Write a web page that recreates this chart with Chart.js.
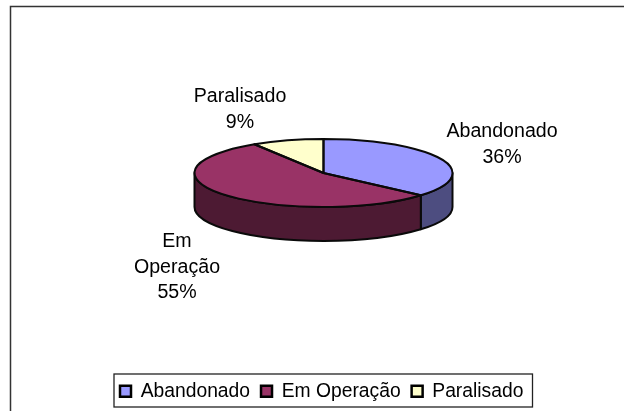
<!DOCTYPE html>
<html>
<head>
<meta charset="utf-8">
<style>html,body{margin:0;padding:0;background:#fff}#w{position:relative;width:624px;height:411px}</style>
<script src="https://cdn.jsdelivr.net/npm/chart.js@4"></script>
</head>
<body>
<div id="w"><canvas id="c" width="624" height="411"></canvas></div>
<script>
const categories = ["Abandonado", "Em Operação", "Paralisado"];
const values = [36.4, 54.6, 9.0];
const topColors = ["#9999FF", "#993366", "#FFFFCC"];
const wallColors = ["#4D4D80", "#4D1A33", "#808066"];
const labelWraps = [["Abandonado"], ["Em", "Operação"], ["Paralisado"]];

const FONT = '"Liberation Sans", Arial, sans-serif';
const INK = "#0a0a0a";
const PIE = {cx: 323.5, cy: 173, rx: 129, ry: 34, depth: 34};
const LABEL_POS = [{x: 502, y: 132}, {x: 177, y: 242}, {x: 240, y: 97}];
const LABEL_LINE = 25.5;
const LEGEND_FRAME = {x: 114, y: 374, w: 418.5, h: 33};

const pie3d = {
  id: "pie3d",
  beforeDraw(chart) {
    const c = chart.ctx;
    c.save();
    c.strokeStyle = "#333";
    c.lineWidth = 1.5;
    c.beginPath();
    c.moveTo(10.5, 411);
    c.lineTo(10.5, 6.5);
    c.lineTo(624, 6.5);
    c.stroke();
    c.restore();
  },
  beforeDatasetsDraw(chart) {
    const c = chart.ctx;
    const arcs = chart.getDatasetMeta(0).data;
    c.save();
    c.lineJoin = "round";
    arcs.forEach((a, i) => {
      const s = Math.max(a.startAngle, 0), e = Math.min(a.endAngle, Math.PI);
      if (e <= s) return;
      c.beginPath();
      c.ellipse(PIE.cx, PIE.cy, PIE.rx, PIE.ry, 0, s, e);
      c.ellipse(PIE.cx, PIE.cy + PIE.depth, PIE.rx, PIE.ry, 0, e, s, true);
      c.closePath();
      c.fillStyle = wallColors[i];
      c.fill();
      c.strokeStyle = INK;
      c.lineWidth = 2;
      c.stroke();
    });
    c.restore();
    const a0 = arcs[0];
    c.save();
    c.translate(PIE.cx, PIE.cy);
    c.scale(PIE.rx / a0.outerRadius, PIE.ry / a0.outerRadius);
    c.translate(-a0.x, -a0.y);
  },
  afterDatasetsDraw(chart) {
    const c = chart.ctx;
    c.restore();
    const arcs = chart.getDatasetMeta(0).data;
    c.save();
    c.strokeStyle = INK;
    c.lineWidth = 2;
    c.lineJoin = "round";
    arcs.forEach(a => {
      c.beginPath();
      c.moveTo(PIE.cx, PIE.cy);
      c.ellipse(PIE.cx, PIE.cy, PIE.rx, PIE.ry, 0, a.startAngle, a.endAngle);
      c.closePath();
      c.stroke();
    });
    c.restore();
  },
  afterDraw(chart) {
    const c = chart.ctx;
    const total = values.reduce((p, v) => p + v, 0);
    c.save();
    c.strokeStyle = "#222";
    c.lineWidth = 1.3;
    c.strokeRect(LEGEND_FRAME.x, LEGEND_FRAME.y, LEGEND_FRAME.w, LEGEND_FRAME.h);
    c.fillStyle = "#000";
    c.font = "19.6px " + FONT;
    c.textAlign = "center";
    c.textBaseline = "middle";
    labelWraps.forEach((lines, i) => {
      const all = [...lines, Math.round(values[i] / total * 100) + "%"];
      all.forEach((t, j) => c.fillText(t, LABEL_POS[i].x, LABEL_POS[i].y + j * LABEL_LINE));
    });
    c.restore();
  }
};

new Chart(document.getElementById("c"), {
  type: "pie",
  data: {
    labels: categories,
    datasets: [{data: values, backgroundColor: topColors, borderWidth: 0}]
  },
  options: {
    responsive: false,
    animation: false,
    devicePixelRatio: 1,
    layout: {padding: {left: 109, right: 40, top: 0, bottom: 0}},
    plugins: {
      tooltip: {enabled: false},
      title: {display: false},
      legend: {
        display: true,
        position: "bottom",
        align: "start",
        labels: {
          color: "#000",
          font: {family: FONT, size: 19.3},
          boxWidth: 11,
          boxHeight: 11,
          padding: 11,
          generateLabels(chart) {
            return Chart.overrides.pie.plugins.legend.labels.generateLabels(chart).map(l => ({
              ...l, lineWidth: 2.5, strokeStyle: "#000"
            }));
          }
        }
      }
    }
  },
  plugins: [pie3d]
});
</script>
</body>
</html>
